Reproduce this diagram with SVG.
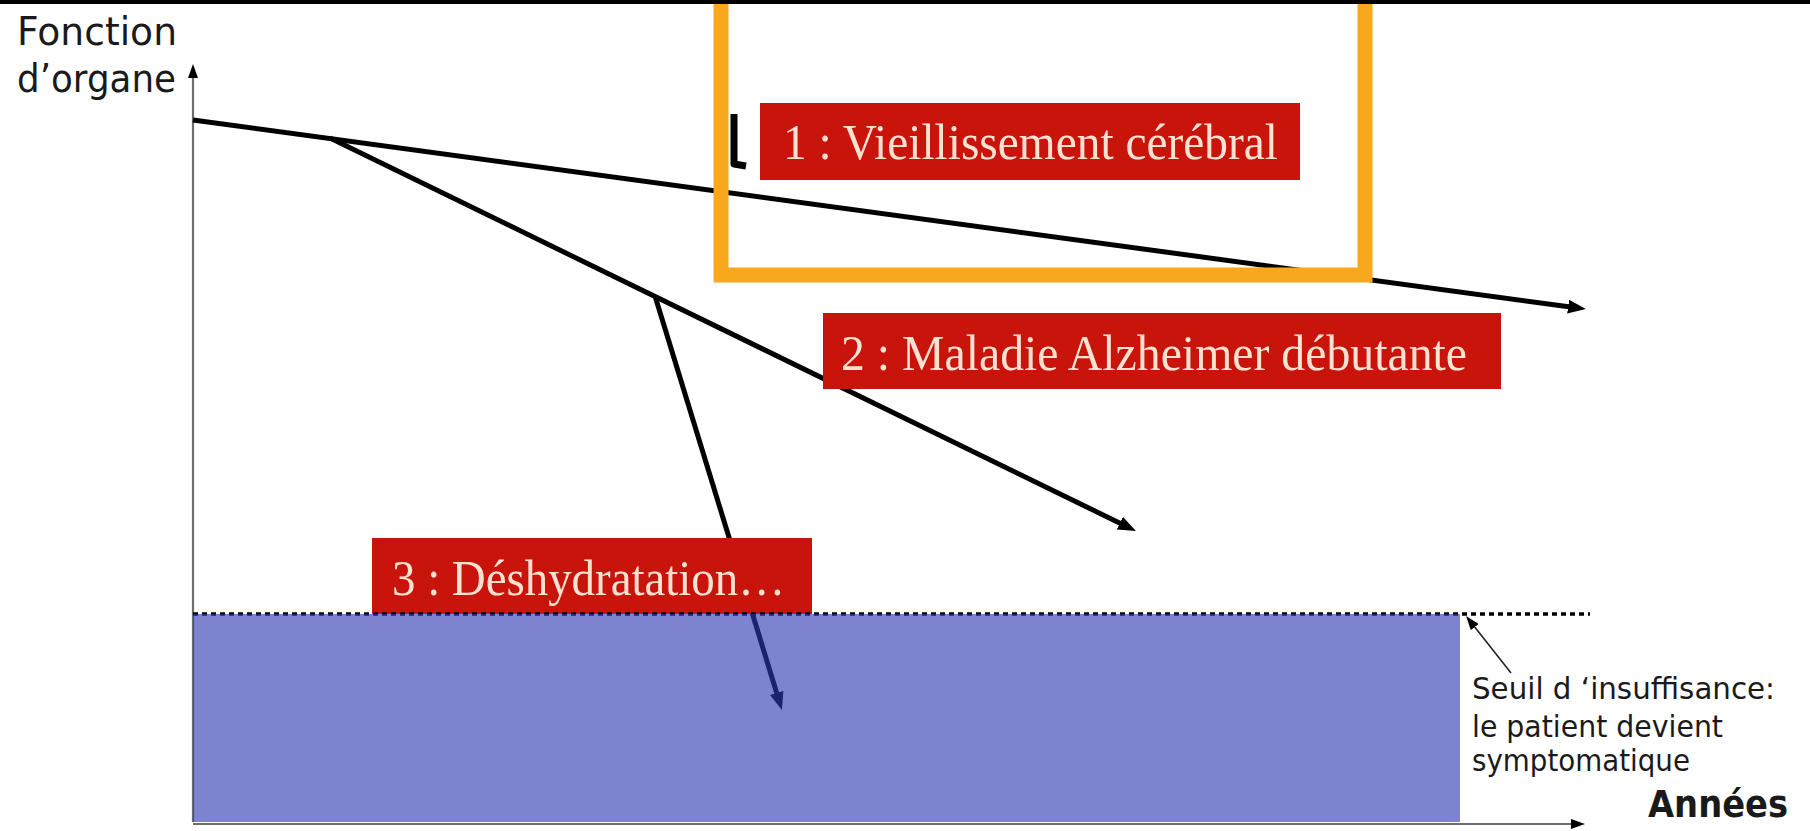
<svg xmlns="http://www.w3.org/2000/svg" width="1810" height="831" viewBox="0 0 1810 831">
  <style>
    .curve { stroke: #000; stroke-width: 5; fill: none; }
    .axis { stroke: #6e6e6e; stroke-width: 2.2; fill: none; }
    .rbox { fill: #c8140b; }
    .rtxt { font-family: "Liberation Serif", "Times New Roman", serif; font-size: 50px; fill: #fde2d2; }
    .hand { font-family: "DejaVu Sans", "Noto Sans", sans-serif; fill: #1a1a1a; }
  </style>
  <defs>
    <marker id="ah" markerUnits="userSpaceOnUse" markerWidth="18" markerHeight="14" refX="10" refY="7" orient="auto">
      <path d="M0,0 L18,7 L0,14 z" fill="#000"/>
    </marker>
    <marker id="ahs" markerUnits="userSpaceOnUse" markerWidth="14" markerHeight="10" refX="6" refY="5" orient="auto">
      <path d="M0,0 L14,5 L0,10 z" fill="#000"/>
    </marker>
  </defs>

  <rect x="0" y="0" width="1810" height="831" fill="#fff"/>

  <g id="axes">
    <line class="axis" x1="193" y1="822" x2="193" y2="72" marker-end="url(#ahs)"/>
    <line class="axis" x1="193" y1="824" x2="1577" y2="824" marker-end="url(#ahs)"/>
  </g>

  <g id="connectors">
    <line id="c1" class="curve" x1="193" y1="120" x2="1578" y2="308" marker-end="url(#ah)"/>
    <line id="c2" class="curve" x1="330" y1="138" x2="1128.8" y2="527.5" marker-end="url(#ah)"/>
    <line id="c3" class="curve" x1="655" y1="296" x2="779.6" y2="702.4" marker-end="url(#ah)"/>
  </g>

  <g id="box3">
    <rect class="rbox" x="372" y="538" width="440" height="76"/>
    <text class="rtxt" x="392" y="595" textLength="393" lengthAdjust="spacingAndGlyphs">3 : Déshydratation…</text>
  </g>

  <g id="threshold">
    <line x1="193" y1="614" x2="1590" y2="614" stroke="#000" stroke-width="3.5" stroke-dasharray="5 4"/>
    <rect x="193" y="614" width="1267" height="208" fill="#2e37b3" fill-opacity="0.62"/>
  </g>

  <g id="highlight">
    <rect x="721" y="-20" width="644" height="295" fill="none" stroke="#f8a81c" stroke-width="15"/>
    <polyline points="734,114 734,164 746,166" fill="none" stroke="#000" stroke-width="7" stroke-linejoin="round"/>
  </g>

  <g id="box1">
    <rect class="rbox" x="760" y="103" width="540" height="77"/>
    <text class="rtxt" x="783" y="159" textLength="495" lengthAdjust="spacingAndGlyphs">1 : Vieillissement cérébral</text>
  </g>

  <g id="box2">
    <rect class="rbox" x="823" y="313" width="678" height="76"/>
    <text class="rtxt" x="841" y="370" textLength="626" lengthAdjust="spacingAndGlyphs">2 : Maladie Alzheimer débutante</text>
  </g>

  <g id="ylabel">
    <text class="hand" x="17" y="45" font-size="39" textLength="160" lengthAdjust="spacingAndGlyphs">Fonction</text>
    <text class="hand" x="17" y="92" font-size="39" textLength="159" lengthAdjust="spacingAndGlyphs">d’organe</text>
  </g>

  <g id="xlabel">
    <text class="hand" x="1648" y="817" font-size="37" font-weight="bold" textLength="140" lengthAdjust="spacingAndGlyphs">Années</text>
  </g>

  <g id="seuil-label">
    <line x1="1511" y1="673" x2="1471" y2="622.3" stroke="#222" stroke-width="1.6" marker-end="url(#ahs)"/>
    <text class="hand" x="1472" y="699" font-size="30" textLength="303" lengthAdjust="spacingAndGlyphs">Seuil d ‘insuffisance:</text>
    <text class="hand" x="1472" y="737" font-size="30" textLength="251" lengthAdjust="spacingAndGlyphs">le patient devient</text>
    <text class="hand" x="1472" y="771" font-size="30" textLength="218" lengthAdjust="spacingAndGlyphs">symptomatique</text>
  </g>

  <rect x="0" y="0" width="1810" height="4" fill="#000"/>
</svg>
